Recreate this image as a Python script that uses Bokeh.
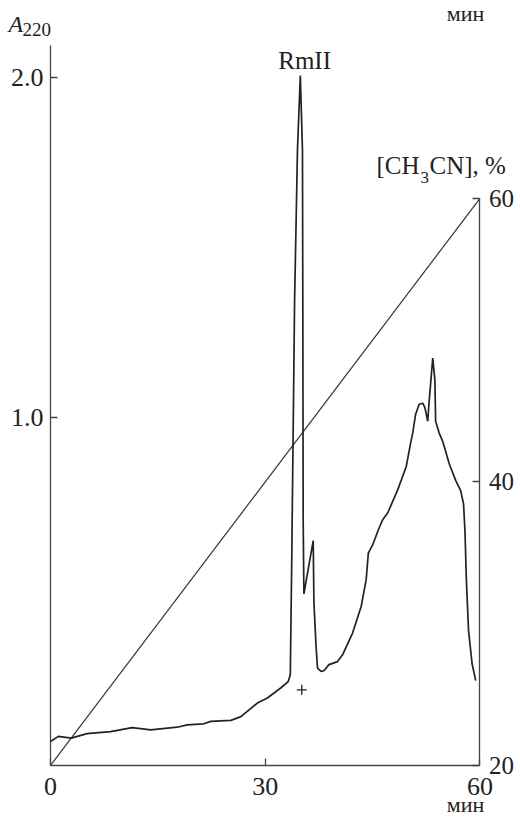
from bokeh.plotting import figure
from bokeh.models import Range1d, LinearAxis, FixedTicker, NumeralTickFormatter, Label, ColumnDataSource
from bokeh.embed import file_html
from bokeh.resources import INLINE

# ---- data ----
time_min = [0.0, 1.1, 2.9, 5.1, 8.4, 11.4, 14.0, 17.7, 19.1, 21.4, 22.4, 25.2, 26.6, 28.9, 30.3,
            32.2, 33.2, 33.5, 33.7, 34.1, 34.5, 34.9, 35.2, 35.25, 35.3, 35.4, 36.7, 36.8, 37.1, 37.3,
            37.8, 38.2, 38.9, 40.1, 40.8, 42.2, 43.4, 44.1, 44.4, 45.0, 45.9, 46.4, 47.1, 48.5, 49.7,
            50.3, 50.6, 51.0, 51.5, 52.0, 52.3, 52.7, 52.9, 53.1, 53.4, 53.7, 53.8, 54.3, 54.8, 55.7,
            56.6, 57.3, 57.7, 57.9, 58.1, 58.4, 58.9, 59.4]
absorbance = [0.048, 0.063, 0.058, 0.071, 0.077, 0.089, 0.082, 0.090, 0.097, 0.100, 0.107, 0.110, 0.121, 0.161, 0.176,
              0.206, 0.224, 0.244, 0.58, 1.345, 1.787, 2.007, 1.787, 1.316, 0.698, 0.482, 0.639, 0.456, 0.327, 0.264,
              0.254, 0.256, 0.274, 0.283, 0.303, 0.367, 0.445, 0.524, 0.602, 0.626, 0.676, 0.70, 0.72, 0.788, 0.857,
              0.925, 0.955, 1.01, 1.04, 1.043, 1.03, 0.99, 1.05, 1.10, 1.176, 1.11, 0.99, 0.955, 0.93, 0.865,
              0.816, 0.786, 0.747, 0.668, 0.521, 0.374, 0.276, 0.227]

gradient_time = [0, 60]
gradient_pct = [20, 60]

marker_time = [35.1]
marker_abs = [0.20]

x_ticks = [0, 30, 60]
left_ticks = [1.0, 2.0]
right_ticks = [20, 40, 60]

x_bounds = (0, 60)
left_bounds = (-0.0226, 2.095)
right_bounds = (20, 60)

peak_label = "RmII"
peak_label_pos = (35.5, 2.05)

FONT = "Liberation Serif"
INK = "#222222"

# frame covers the whole canvas; axes are pinned at fixed data locations
p = figure(width=520, height=818,
           x_range=Range1d(-6.985, 65.658), y_range=Range1d(-0.1785, 2.2274),
           output_backend="svg", toolbar_location=None,
           min_border=0, min_border_left=0, min_border_right=0,
           min_border_top=0, min_border_bottom=0)
p.extra_y_ranges = {"pct": Range1d(16.26, 73.95)}
p.grid.visible = False
p.outline_line_color = None
p.background_fill_color = "white"
p.border_fill_color = "white"

def style_axis(ax, size="25px", standoff=8):
    ax.axis_line_color = "#444444"
    ax.axis_line_width = 1.3
    ax.major_tick_line_color = "#444444"
    ax.major_tick_line_width = 1.3
    ax.major_tick_in = 7
    ax.major_tick_out = 0
    ax.minor_tick_line_color = None
    ax.major_label_text_font = FONT
    ax.major_label_text_font_size = size
    ax.major_label_text_color = INK
    ax.major_label_standoff = standoff

xax = p.xaxis[0]
xax.ticker = FixedTicker(ticks=x_ticks)
xax.bounds = x_bounds
xax.fixed_location = left_bounds[0]
style_axis(xax, "26px", 13)

yax = p.yaxis[0]
yax.ticker = FixedTicker(ticks=left_ticks)
yax.formatter = NumeralTickFormatter(format="0.0")
yax.bounds = left_bounds
yax.fixed_location = x_bounds[0]
style_axis(yax, "26px", 7)

rax = LinearAxis(y_range_name="pct", ticker=FixedTicker(ticks=right_ticks),
                 bounds=right_bounds, fixed_location=x_bounds[1])
style_axis(rax, "25px", 9)
p.add_layout(rax, "right")

# gradient line
p.line(gradient_time, gradient_pct, y_range_name="pct", line_color="#333333", line_width=1.2)

# chromatogram
src = ColumnDataSource(dict(t=time_min, a=absorbance))
p.line("t", "a", source=src, line_color=INK, line_width=1.7)

p.scatter(marker_time, marker_abs, marker="cross", size=10, line_color=INK, line_width=1.3)

def lab(x, y, text, size="25px", align="left", style="normal", units="canvas"):
    p.add_layout(Label(x=x, y=y, x_units=units, y_units=units, text=text, text_font=FONT,
                       text_font_size=size, text_align=align, text_baseline="middle",
                       text_color=INK, text_font_style=style))

lab(peak_label_pos[0], peak_label_pos[1], peak_label, "25px", "center", units="data")
lab(8, 23, "A", "24px", "left", "italic")
lab(22, 29, "220", "19px", "left")
lab(376, 165, "[CH", "25px", "left")
lab(420, 177, "3", "17px", "left")
lab(429, 165, "CN], %", "25px", "left")
lab(465, 13, "мин", "22px", "center")
lab(465, 804, "мин", "22px", "center")

open("out.html", "w").write(file_html(p, INLINE))
